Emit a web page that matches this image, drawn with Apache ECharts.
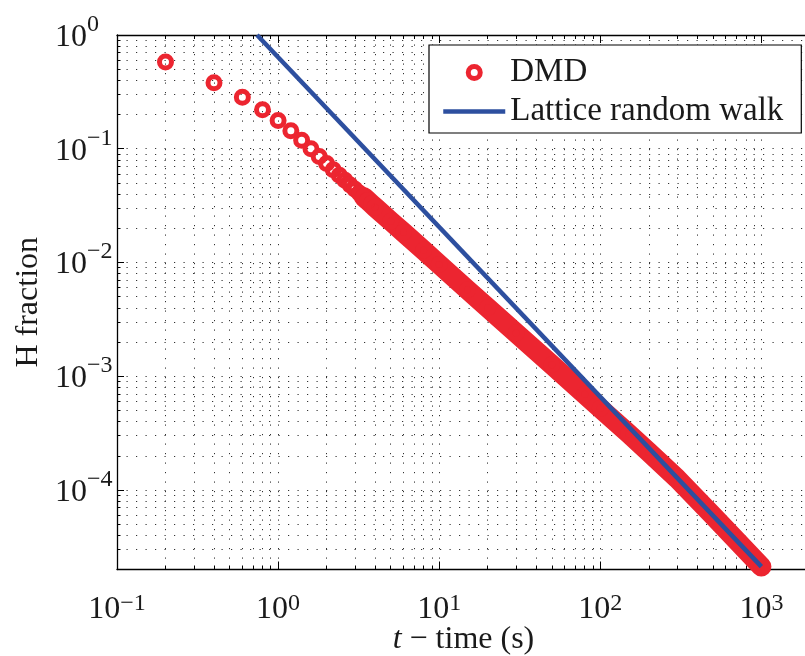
<!DOCTYPE html>
<html><head><meta charset="utf-8">
<script src="https://cdn.jsdelivr.net/npm/echarts@6/dist/echarts.min.js"></script>
<style>html,body{margin:0;padding:0;background:#fff}#c{width:805px;height:656px}</style>
</head><body><div id="c"></div>
<script>
// ---- data ----
const dmdT = [0.2,0.4,0.6,0.8,1.0,1.2,1.4,1.6,1.8,2.0,2.2,2.4,2.6,2.8,3.0,3.2,3.4,3.6,3.8,4.0,5,6,8,10,15,20,30,50,80,100,150,200,300,500,700,1000];
const dmdH = [0.58,0.38,0.284,0.220,0.177,0.144,0.119,0.100,0.0855,0.0742,0.0653,0.0585,0.0528,0.0481,0.0441,0.0407,0.0377,0.0351,0.0327,0.0306,0.0231,0.0184,0.0128,0.00962,0.00575,0.00400,0.00240,0.00126,6.93e-4,5.22e-4,3.13e-4,2.15e-4,1.26e-4,5.95e-5,3.6e-5,2.12e-5];
const walkT = [0.74, 1000];
const walkH = [1.0, 2.12e-5];
const xMajor = [0.1, 1, 10, 100, 1000];
const xMinor = [0.2,0.3,0.4,0.5,0.6,0.7,0.8,0.9, 2,3,4,5,6,7,8,9, 20,30,40,50,60,70,80,90, 200,300,400,500,600,700,800,900, 2000];
const yMajor = [1e-4, 1e-3, 1e-2, 1e-1, 1];
const yMinor = [2e-5,3e-5,4e-5,5e-5,6e-5,7e-5,8e-5,9e-5, 2e-4,3e-4,4e-4,5e-4,6e-4,7e-4,8e-4,9e-4, 2e-3,3e-3,4e-3,5e-3,6e-3,7e-3,8e-3,9e-3, 0.02,0.03,0.04,0.05,0.06,0.07,0.08,0.09, 0.2,0.3,0.4,0.5,0.6,0.7,0.8,0.9];
const bandStartT = 3.4;

const FONT = 'Liberation Serif';
const RED = '#ec2530';
const BLUE = '#2d4f9f';
const TXT = '#1a1a1a';

const gridLine = {show: true, lineStyle: {color: '#333', width: 1, type: [1.2, 8.3]}};
function fmt(v) {
  const e = Math.round(Math.log10(v));
  return '{b|10}{s|' + (e < 0 ? '\u2212' + (-e) : e) + '}';
}
function richFor(pad) {
  return {
    b: {fontSize: 32, fontFamily: FONT, color: TXT, verticalAlign: 'bottom'},
    s: {fontSize: 24, fontFamily: FONT, color: TXT, verticalAlign: 'bottom', padding: [0, 0, pad, 0]}
  };
}
function axis(dim, pos, ticks, len, opt) {
  const ext = dim === 'x' ? [0.1, 2000] : [2e-5, 1];
  return Object.assign({
    type: 'log', logBase: 10, position: pos, min: ext[0], max: ext[1],
    axisLine: {show: false},
    axisTick: {show: true, inside: true, length: len, customValues: ticks, lineStyle: {color: '#000', width: 1}},
    minorTick: {show: false},
    axisLabel: {show: false},
    splitLine: {show: false},
    axisPointer: {show: false}
  }, opt || {});
}
const axisLineStyle = {show: true, lineStyle: {color: '#000', width: 1.3}};

const xAxes = [
  axis('x', 'bottom', xMajor, 8, {
    axisLine: axisLineStyle, splitLine: gridLine,
    axisLabel: {show: true, customValues: xMajor, formatter: fmt, rich: richFor(10), margin: 22},
    name: '{i|t} \u2212 time (s)', nameLocation: 'middle', nameGap: 54, nameMoveOverlap: false,
    nameTextStyle: {fontSize: 32, fontFamily: FONT, color: TXT,
      rich: {i: {fontSize: 32, fontFamily: FONT, fontStyle: 'italic', color: TXT}}}
  }),
  axis('x', 'bottom', xMinor, 4, {splitLine: gridLine}),
  axis('x', 'top', xMajor, 8, {axisLine: axisLineStyle}),
  axis('x', 'top', xMinor, 4)
];
const yAxes = [
  axis('y', 'left', yMajor, 7, {
    axisLine: axisLineStyle, splitLine: gridLine,
    axisLabel: {show: true, customValues: yMajor, formatter: fmt, rich: richFor(17), margin: 62, align: 'left', padding: [0, 0, 4, 0]},
    name: 'H fraction', nameLocation: 'middle', nameGap: 72, nameRotate: 90, nameMoveOverlap: false,
    nameTextStyle: {fontSize: 32, fontFamily: FONT, color: TXT}
  }),
  axis('y', 'left', yMinor, 3.5, {splitLine: gridLine})
];

const dmdPts = dmdT.map((t, i) => [t, dmdH[i]]);
const bandPts = dmdPts.filter(p => p[0] >= bandStartT);
const walkPts = walkT.map((t, i) => [t, walkH[i]]);

const chart = echarts.init(document.getElementById('c'), null, {renderer: 'canvas'});
chart.setOption({
  animation: false,
  backgroundColor: '#fff',
  grid: {left: 117, top: 35, width: 692.9, height: 534.5, outerBoundsMode: 'none', containLabel: false},
  xAxis: xAxes,
  yAxis: yAxes,
  legend: {
    left: 429, top: 45, orient: 'vertical', selectedMode: false,
    backgroundColor: '#fff', borderColor: '#000', borderWidth: 1.2,
    padding: [11, 18, 5, 12], itemGap: 6, itemWidth: 62, itemHeight: 12,
    textStyle: {fontFamily: FONT, fontSize: 33, color: TXT},
    data: [
      {name: 'DMD', icon: 'circle', itemStyle: {color: 'rgba(0,0,0,0)', borderColor: RED, borderWidth: 5}},
      {name: 'Lattice random walk', itemStyle: {opacity: 0}, lineStyle: {color: BLUE, width: 4.5}}
    ]
  },
  series: [
    {name: 'DMD band', type: 'line', data: bandPts, symbol: 'none', silent: true, z: 1,
     lineStyle: {color: RED, width: 20, cap: 'round', join: 'round'}},
    {name: 'DMD', type: 'scatter', data: dmdPts, symbol: 'circle', symbolSize: 12, z: 2, silent: true,
     itemStyle: {color: 'rgba(0,0,0,0)', borderColor: RED, borderWidth: 5, opacity: 1}},
    {name: 'Lattice random walk', type: 'line', data: walkPts, symbol: 'none', z: 3, silent: true,
     lineStyle: {color: BLUE, width: 4.5}, itemStyle: {color: BLUE}}
  ]
});
</script></body></html>
